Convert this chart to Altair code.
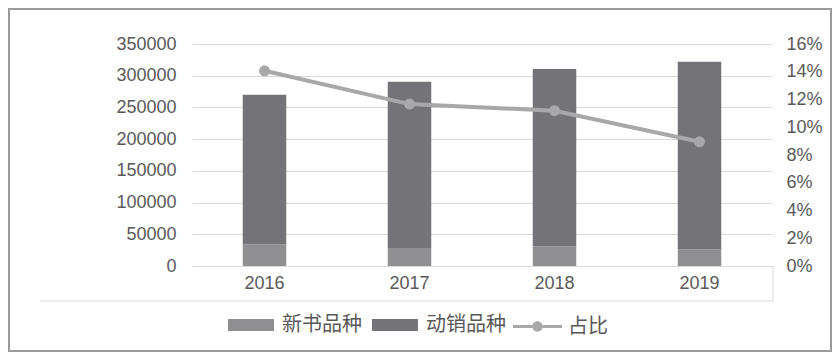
import altair as alt
import pandas as pd

years = ["2016", "2017", "2018", "2019"]
new_titles = [34300, 28400, 31100, 25900]          # 新书品种
active_titles = [235700, 262100, 279400, 296100]   # 动销品种 (stacked segment)
ratio = [0.1407, 0.1167, 0.1119, 0.0895]            # 占比

bar_series = ["新书品种", "动销品种"]
bar_colors = ["#8f8f92", "#747478"]
line_color = "#a8a8ab"
text_color = "#595959"
grid_color = "#d9d9d9"

rows = []
for i, y in enumerate(years):
    rows.append({"year": y, "series": "新书品种", "value": new_titles[i], "ord": 0})
    rows.append({"year": y, "series": "动销品种", "value": active_titles[i], "ord": 1})
bars_df = pd.DataFrame(rows)
line_df = pd.DataFrame({"year": years, "ratio": ratio, "s": ["占比"] * 4})
one = pd.DataFrame({"a": [0]})

W, H = 580, 222

x_enc = alt.X("year:N", title=None, sort=years,
              scale=alt.Scale(paddingInner=0.7, paddingOuter=0.35),
              axis=alt.Axis(labelAngle=0, domain=False, ticks=False, labelPadding=8,
                            labelFontSize=18, labelColor=text_color, labelFont="Liberation Sans"))

rect_path = "M-1,-0.26L1,-0.26L1,0.26L-1,0.26Z"
line_path = ("M-1,-0.06L-0.2,-0.06L-0.2,0.06L-1,0.06Z"
             "M0.2,-0.06L1,-0.06L1,0.06L0.2,0.06Z"
             "M-0.21,0A0.21,0.21 0 1,0 0.21,0A0.21,0.21 0 1,0 -0.21,0Z")

bars = alt.Chart(bars_df).mark_bar().encode(
    x=x_enc,
    y=alt.Y("value:Q", title=None, stack="zero",
            scale=alt.Scale(domain=[0, 350000], nice=False),
            axis=alt.Axis(values=list(range(0, 350001, 50000)), format="d",
                          domain=False, ticks=False, labelPadding=16,
                          gridColor=grid_color, labelFontSize=18,
                          labelColor=text_color, labelFont="Liberation Sans")),
    fill=alt.Fill("series:N", scale=alt.Scale(domain=bar_series, range=bar_colors),
                  legend=alt.Legend(title=None, orient="none", direction="horizontal",
                                    legendX=36, legendY=258, symbolType=rect_path,
                                    symbolSize=2116, symbolStrokeWidth=0, labelOffset=8,
                                    columnPadding=10, labelFontSize=20,
                                    labelFont="Noto Sans CJK SC", labelColor=text_color)),
    order=alt.Order("ord:Q"),
)

ratio_axis = alt.Axis(orient="right", values=[i / 100 for i in range(0, 17, 2)],
                      format=".0%", domain=False, ticks=False, grid=False,
                      labelPadding=14, labelFontSize=18, labelColor=text_color,
                      labelFont="Liberation Sans")
ratio_scale = alt.Scale(domain=[0, 0.16], nice=False)

line = alt.Chart(line_df).mark_line(strokeWidth=4).encode(
    x=alt.X("year:N", sort=years),
    y=alt.Y("ratio:Q", title=None, scale=ratio_scale, axis=ratio_axis),
    stroke=alt.Stroke("s:N", scale=alt.Scale(domain=["占比"], range=[line_color]),
                      legend=alt.Legend(title=None, orient="none", direction="horizontal",
                                        legendX=321, legendY=258, symbolType=line_path,
                                        symbolSize=2401, symbolStrokeWidth=0,
                                        symbolFillColor=line_color, labelOffset=6,
                                        labelFontSize=20, labelFont="Noto Sans CJK SC",
                                        labelColor=text_color)),
)
points = alt.Chart(line_df).mark_point(filled=True, size=120, opacity=1, color=line_color).encode(
    x=alt.X("year:N", sort=years),
    y=alt.Y("ratio:Q", title=None, scale=ratio_scale, axis=ratio_axis),
)

hline = alt.Chart(one).mark_rule(color=grid_color, strokeWidth=1).encode(
    x=alt.value(-152), x2=alt.value(581), y=alt.value(257))
vline = alt.Chart(one).mark_rule(color=grid_color, strokeWidth=1).encode(
    x=alt.value(581), y=alt.value(222), y2=alt.value(257))
frame = alt.Chart(one).mark_rect(fill=None, stroke="#9a9a9a", strokeWidth=2).encode(
    x=alt.value(-183), x2=alt.value(639), y=alt.value(-35), y2=alt.value(307))

chart = alt.layer(bars, line + points, hline, vline, frame).resolve_scale(
    y="independent", fill="independent", stroke="independent"
).properties(
    width=W, height=H,
    autosize=alt.AutoSizeParams(type="none"),
    padding={"left": 184, "top": 36, "right": 60, "bottom": 86},
).configure_view(stroke=None).configure_axis(gridColor=grid_color)

chart.save("out.html", embed_options={"renderer": "svg", "actions": False})
